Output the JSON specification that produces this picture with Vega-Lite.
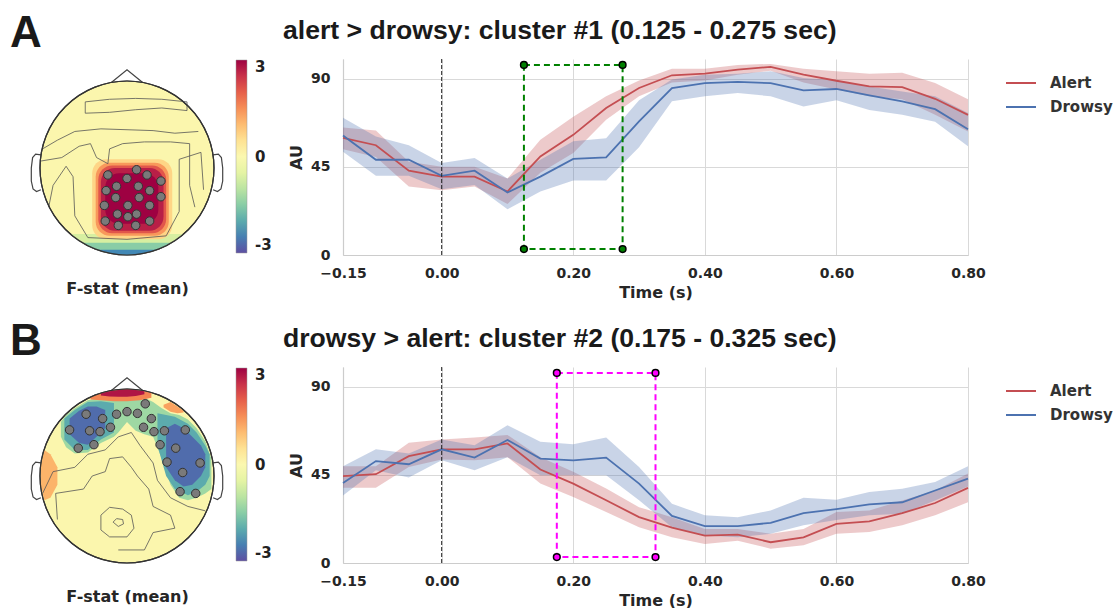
{
"$schema": "https://vega.github.io/schema/vega-lite/v6.json",
"background": "white",
"padding": {"left": 10, "top": 12, "right": 0, "bottom": 0},
"config": {
  "view": {"stroke": null},
  "axis": {"labelFont": "DejaVu Sans", "labelFontWeight": "bold", "labelFontSize": 14, "labelColor": "#262626", "titleFont": "DejaVu Sans", "titleFontWeight": "bold", "titleFontSize": 16, "titleColor": "#262626", "gridColor": "#d9d9d9", "gridWidth": 1, "domainColor": "#cccccc", "domainWidth": 1.2, "ticks": false, "labelFlush": false, "labelOverlap": false}
},
"datasets": {
  "lineA": [
    {"c":"Alert","t":-0.15,"y":59.7,"lo":54,"hi":65},{"c":"Alert","t":-0.10,"y":56,"lo":50,"hi":63.5},{"c":"Alert","t":-0.05,"y":43,"lo":35,"hi":47.6},{"c":"Alert","t":0.00,"y":40,"lo":33,"hi":45},{"c":"Alert","t":0.05,"y":40,"lo":35,"hi":45},{"c":"Alert","t":0.10,"y":32.4,"lo":26,"hi":39},{"c":"Alert","t":0.15,"y":50.3,"lo":42,"hi":58.8},{"c":"Alert","t":0.20,"y":61.3,"lo":52,"hi":70.5},{"c":"Alert","t":0.25,"y":75,"lo":69,"hi":81},{"c":"Alert","t":0.30,"y":85.2,"lo":81,"hi":89},{"c":"Alert","t":0.35,"y":91.7,"lo":88,"hi":95},{"c":"Alert","t":0.40,"y":92.5,"lo":89,"hi":95},{"c":"Alert","t":0.45,"y":94.6,"lo":92,"hi":97},{"c":"Alert","t":0.50,"y":96,"lo":94,"hi":97.5},{"c":"Alert","t":0.55,"y":92,"lo":88,"hi":95},{"c":"Alert","t":0.60,"y":88.9,"lo":84.5,"hi":93.7},{"c":"Alert","t":0.65,"y":86,"lo":81,"hi":92.5},{"c":"Alert","t":0.70,"y":85.7,"lo":79.5,"hi":93},{"c":"Alert","t":0.75,"y":79.7,"lo":71.5,"hi":87.7},{"c":"Alert","t":0.80,"y":71.5,"lo":63,"hi":79.5},
    {"c":"Drowsy","t":-0.15,"y":61,"lo":52.7,"hi":70},{"c":"Drowsy","t":-0.10,"y":48.6,"lo":40.4,"hi":60.4},{"c":"Drowsy","t":-0.05,"y":48.6,"lo":40.4,"hi":56},{"c":"Drowsy","t":0.00,"y":40.4,"lo":33.5,"hi":47},{"c":"Drowsy","t":0.05,"y":43,"lo":35.7,"hi":49.5},{"c":"Drowsy","t":0.10,"y":31.9,"lo":23.3,"hi":39},{"c":"Drowsy","t":0.15,"y":40,"lo":32.4,"hi":48.6},{"c":"Drowsy","t":0.20,"y":49,"lo":38,"hi":58},{"c":"Drowsy","t":0.25,"y":49.8,"lo":38,"hi":59.6},{"c":"Drowsy","t":0.30,"y":68.2,"lo":55,"hi":79},{"c":"Drowsy","t":0.35,"y":85.2,"lo":78.4,"hi":89.5},{"c":"Drowsy","t":0.40,"y":87.7,"lo":81,"hi":92},{"c":"Drowsy","t":0.45,"y":88.3,"lo":82.6,"hi":92.5},{"c":"Drowsy","t":0.50,"y":87.7,"lo":81,"hi":93.7},{"c":"Drowsy","t":0.55,"y":84,"lo":75.8,"hi":90.3},{"c":"Drowsy","t":0.60,"y":84.7,"lo":79,"hi":89.1},{"c":"Drowsy","t":0.65,"y":81.4,"lo":74,"hi":86},{"c":"Drowsy","t":0.70,"y":78.4,"lo":71.5,"hi":83.4},{"c":"Drowsy","t":0.75,"y":74.4,"lo":68,"hi":81},{"c":"Drowsy","t":0.80,"y":64.2,"lo":55.5,"hi":72.5}
  ],
  "lineB": [
    {"c":"Alert","t":-0.15,"y":44.3,"lo":38.4,"hi":49.4},{"c":"Alert","t":-0.10,"y":45.3,"lo":38.4,"hi":49.4},{"c":"Alert","t":-0.05,"y":54.5,"lo":49,"hi":61.3},{"c":"Alert","t":0.00,"y":58,"lo":52.8,"hi":63},{"c":"Alert","t":0.05,"y":58,"lo":52.4,"hi":64},{"c":"Alert","t":0.10,"y":61,"lo":54,"hi":65.3},{"c":"Alert","t":0.15,"y":47.7,"lo":40.5,"hi":54},{"c":"Alert","t":0.20,"y":40.5,"lo":33.7,"hi":46.5},{"c":"Alert","t":0.25,"y":32,"lo":26,"hi":38},{"c":"Alert","t":0.30,"y":23.4,"lo":18.2,"hi":28.5},{"c":"Alert","t":0.35,"y":18,"lo":13.1,"hi":23.4},{"c":"Alert","t":0.40,"y":14,"lo":9.7,"hi":17.4},{"c":"Alert","t":0.45,"y":14.5,"lo":11.4,"hi":17.4},{"c":"Alert","t":0.50,"y":10.6,"lo":7.3,"hi":14.9},{"c":"Alert","t":0.55,"y":13.1,"lo":9,"hi":17.4},{"c":"Alert","t":0.60,"y":20,"lo":14.9,"hi":26},{"c":"Alert","t":0.65,"y":21.2,"lo":15.8,"hi":26.8},{"c":"Alert","t":0.70,"y":25.4,"lo":19.2,"hi":31.9},{"c":"Alert","t":0.75,"y":30.6,"lo":24.3,"hi":37},{"c":"Alert","t":0.80,"y":38.3,"lo":31,"hi":45.6},
    {"c":"Drowsy","t":-0.15,"y":40.8,"lo":34.5,"hi":49.4},{"c":"Drowsy","t":-0.10,"y":52,"lo":47.3,"hi":58},{"c":"Drowsy","t":-0.05,"y":50.4,"lo":43.6,"hi":55.9},{"c":"Drowsy","t":0.00,"y":58,"lo":52.4,"hi":63},{"c":"Drowsy","t":0.05,"y":53.8,"lo":47.3,"hi":60.1},{"c":"Drowsy","t":0.10,"y":62.8,"lo":54,"hi":70.3},{"c":"Drowsy","t":0.15,"y":53.3,"lo":44.8,"hi":61.8},{"c":"Drowsy","t":0.20,"y":52.4,"lo":44.8,"hi":60.6},{"c":"Drowsy","t":0.25,"y":53.8,"lo":44.8,"hi":64},{"c":"Drowsy","t":0.30,"y":40.5,"lo":32,"hi":49},{"c":"Drowsy","t":0.35,"y":24,"lo":18.2,"hi":30.2},{"c":"Drowsy","t":0.40,"y":18.8,"lo":14,"hi":24.3},{"c":"Drowsy","t":0.45,"y":18.8,"lo":13.1,"hi":23.4},{"c":"Drowsy","t":0.50,"y":20.5,"lo":14.9,"hi":26.8},{"c":"Drowsy","t":0.55,"y":25.4,"lo":19.2,"hi":33.3},{"c":"Drowsy","t":0.60,"y":27.5,"lo":22,"hi":32.3},{"c":"Drowsy","t":0.65,"y":29.9,"lo":24.3,"hi":36.2},{"c":"Drowsy","t":0.70,"y":31,"lo":25.1,"hi":37.9},{"c":"Drowsy","t":0.75,"y":37,"lo":31.9,"hi":41.3},{"c":"Drowsy","t":0.80,"y":43,"lo":39,"hi":49.4}
  ],
  "boxA": [{"t":0.125,"t2":0.275,"y":3,"y2":97}],
  "cornA": [{"t":0.125,"y":97},{"t":0.275,"y":97},{"t":0.125,"y":3},{"t":0.275,"y":3}],
  "boxB": [{"t":0.175,"t2":0.325,"y":3,"y2":97}],
  "cornB": [{"t":0.175,"y":97},{"t":0.325,"y":97},{"t":0.175,"y":3},{"t":0.325,"y":3}],
  "head": [{"x":0,"y":0,"v":0.05}],
  "outline": [
    {"g":"nose","i":0,"x":-0.18,"y":0.983},{"g":"nose","i":1,"x":0,"y":1.13},{"g":"nose","i":2,"x":0.18,"y":0.983},
    {"g":"earL","i":0,"x":-0.99,"y":0.15},{"g":"earL","i":1,"x":-1.05,"y":0.16},{"g":"earL","i":2,"x":-1.085,"y":0.12},{"g":"earL","i":3,"x":-1.1,"y":0.0},{"g":"earL","i":4,"x":-1.1,"y":-0.15},{"g":"earL","i":5,"x":-1.08,"y":-0.24},{"g":"earL","i":6,"x":-1.04,"y":-0.27},{"g":"earL","i":7,"x":-0.99,"y":-0.25},
    {"g":"earR","i":0,"x":0.99,"y":0.15},{"g":"earR","i":1,"x":1.05,"y":0.16},{"g":"earR","i":2,"x":1.085,"y":0.12},{"g":"earR","i":3,"x":1.1,"y":0.0},{"g":"earR","i":4,"x":1.1,"y":-0.15},{"g":"earR","i":5,"x":1.08,"y":-0.24},{"g":"earR","i":6,"x":1.04,"y":-0.27},{"g":"earR","i":7,"x":0.99,"y":-0.25}
  ],
  "elecA": [
    {"x":-0.22,"y":-0.08},{"x":0.11,"y":-0.02},{"x":0.23,"y":-0.08},{"x":0.39,"y":-0.15},{"x":0.0,"y":-0.12},{"x":-0.12,"y":-0.21},{"x":0.13,"y":-0.21},{"x":0.26,"y":-0.26},{"x":0.39,"y":-0.33},{"x":-0.24,"y":-0.26},{"x":-0.13,"y":-0.34},{"x":0.14,"y":-0.34},{"x":-0.26,"y":-0.43},{"x":0.01,"y":-0.43},{"x":0.26,"y":-0.43},{"x":-0.11,"y":-0.53},{"x":0.11,"y":-0.53},{"x":0.01,"y":-0.56},{"x":-0.25,"y":-0.61},{"x":-0.10,"y":-0.66},{"x":0.10,"y":-0.66},{"x":0.26,"y":-0.61}
  ],
  "elecB": [
    {"x":-0.47,"y":0.71},{"x":-0.12,"y":0.71},{"x":0.0,"y":0.74},{"x":0.12,"y":0.72},{"x":0.21,"y":0.83},{"x":-0.28,"y":0.66},{"x":0.28,"y":0.66},{"x":-0.66,"y":0.53},{"x":-0.43,"y":0.52},{"x":-0.31,"y":0.51},{"x":-0.19,"y":0.56},{"x":0.19,"y":0.56},{"x":0.31,"y":0.51},{"x":0.43,"y":0.52},{"x":0.67,"y":0.53},{"x":-0.56,"y":0.32},{"x":-0.38,"y":0.36},{"x":0.38,"y":0.36},{"x":0.56,"y":0.32},{"x":0.46,"y":0.16},{"x":0.84,"y":0.15},{"x":0.64,"y":0.04},{"x":0.61,"y":-0.18},{"x":0.79,"y":-0.20}
  ],
  "rectA": [
    {"x":-0.40,"x2":0.52,"y":-0.82,"y2":0.10,"v":0.7},
    {"x":-0.36,"x2":0.48,"y":-0.78,"y2":0.06,"v":1.4},
    {"x":-0.33,"x2":0.45,"y":-0.75,"y2":0.03,"v":2.1},
    {"x":-0.30,"x2":0.42,"y":-0.72,"y2":0.0,"v":2.7},
    {"x":-0.25,"x2":0.36,"y":-0.64,"y2":-0.06,"v":3}
  ],
  "patchA": [
    {"g":"a1","v":-0.7,"x":-0.65,"y":-0.76,"y2":-0.76},{"g":"a1","v":-0.7,"x":-0.55,"y":-0.835,"y2":-0.76},{"g":"a1","v":-0.7,"x":-0.45,"y":-0.893,"y2":-0.76},{"g":"a1","v":-0.7,"x":-0.35,"y":-0.937,"y2":-0.76},{"g":"a1","v":-0.7,"x":-0.25,"y":-0.968,"y2":-0.76},{"g":"a1","v":-0.7,"x":-0.15,"y":-0.989,"y2":-0.76},{"g":"a1","v":-0.7,"x":0,"y":-1,"y2":-0.76},{"g":"a1","v":-0.7,"x":0.15,"y":-0.989,"y2":-0.76},{"g":"a1","v":-0.7,"x":0.25,"y":-0.968,"y2":-0.76},{"g":"a1","v":-0.7,"x":0.35,"y":-0.937,"y2":-0.76},{"g":"a1","v":-0.7,"x":0.45,"y":-0.893,"y2":-0.76},{"g":"a1","v":-0.7,"x":0.55,"y":-0.835,"y2":-0.76},{"g":"a1","v":-0.7,"x":0.65,"y":-0.76,"y2":-0.76},
    {"g":"a2","v":-1.5,"x":-0.51,"y":-0.86,"y2":-0.86},{"g":"a2","v":-1.5,"x":-0.4,"y":-0.917,"y2":-0.86},{"g":"a2","v":-1.5,"x":-0.3,"y":-0.954,"y2":-0.86},{"g":"a2","v":-1.5,"x":-0.2,"y":-0.98,"y2":-0.86},{"g":"a2","v":-1.5,"x":-0.1,"y":-0.995,"y2":-0.86},{"g":"a2","v":-1.5,"x":0,"y":-1,"y2":-0.86},{"g":"a2","v":-1.5,"x":0.1,"y":-0.995,"y2":-0.86},{"g":"a2","v":-1.5,"x":0.2,"y":-0.98,"y2":-0.86},{"g":"a2","v":-1.5,"x":0.3,"y":-0.954,"y2":-0.86},{"g":"a2","v":-1.5,"x":0.4,"y":-0.917,"y2":-0.86},{"g":"a2","v":-1.5,"x":0.51,"y":-0.86,"y2":-0.86},
    {"g":"a3","v":-2.4,"x":-0.341,"y":-0.94,"y2":-0.94},{"g":"a3","v":-2.4,"x":-0.25,"y":-0.968,"y2":-0.94},{"g":"a3","v":-2.4,"x":-0.15,"y":-0.989,"y2":-0.94},{"g":"a3","v":-2.4,"x":0,"y":-1,"y2":-0.94},{"g":"a3","v":-2.4,"x":0.15,"y":-0.989,"y2":-0.94},{"g":"a3","v":-2.4,"x":0.25,"y":-0.968,"y2":-0.94},{"g":"a3","v":-2.4,"x":0.341,"y":-0.94,"y2":-0.94}
  ],
  "patchB": [
    {"g":"b1","v":-1.3,"x":-0.76,"y":0.45,"y2":0.62},{"g":"b1","v":-1.3,"x":-0.7,"y":0.33,"y2":0.7},{"g":"b1","v":-1.3,"x":-0.6,"y":0.26,"y2":0.78},{"g":"b1","v":-1.3,"x":-0.45,"y":0.27,"y2":0.87},{"g":"b1","v":-1.3,"x":-0.3,"y":0.38,"y2":0.9},{"g":"b1","v":-1.3,"x":-0.15,"y":0.45,"y2":0.92},{"g":"b1","v":-1.3,"x":-0.1,"y":0.5,"y2":0.93},{"g":"b1","v":-1.3,"x":0.0,"y":0.62,"y2":0.93},{"g":"b1","v":-1.3,"x":0.1,"y":0.52,"y2":0.93},{"g":"b1","v":-1.3,"x":0.2,"y":0.48,"y2":0.9},{"g":"b1","v":-1.3,"x":0.3,"y":0.45,"y2":0.85},{"g":"b1","v":-1.3,"x":0.4,"y":0.2,"y2":0.78},{"g":"b1","v":-1.3,"x":0.5,"y":-0.1,"y2":0.72},{"g":"b1","v":-1.3,"x":0.6,"y":-0.25,"y2":0.7},{"g":"b1","v":-1.3,"x":0.7,"y":-0.28,"y2":0.65},{"g":"b1","v":-1.3,"x":0.8,"y":-0.25,"y2":0.55},{"g":"b1","v":-1.3,"x":0.9,"y":-0.2,"y2":0.4},{"g":"b1","v":-1.3,"x":0.97,"y":-0.15,"y2":0.2},
    {"g":"b2l","v":-2.0,"x":-0.72,"y":0.42,"y2":0.66},{"g":"b2l","v":-2.0,"x":-0.6,"y":0.3,"y2":0.76},{"g":"b2l","v":-2.0,"x":-0.45,"y":0.3,"y2":0.85},{"g":"b2l","v":-2.0,"x":-0.3,"y":0.42,"y2":0.86},{"g":"b2l","v":-2.0,"x":-0.15,"y":0.5,"y2":0.84},
    {"g":"b2r","v":-2.0,"x":0.35,"y":0.35,"y2":0.72},{"g":"b2r","v":-2.0,"x":0.45,"y":0.0,"y2":0.7},{"g":"b2r","v":-2.0,"x":0.55,"y":-0.15,"y2":0.68},{"g":"b2r","v":-2.0,"x":0.7,"y":-0.22,"y2":0.6},{"g":"b2r","v":-2.0,"x":0.8,"y":-0.18,"y2":0.5},{"g":"b2r","v":-2.0,"x":0.9,"y":-0.1,"y2":0.35},{"g":"b2r","v":-2.0,"x":0.95,"y":0.0,"y2":0.25},
    {"g":"b3l","v":-2.7,"x":-0.66,"y":0.48,"y2":0.66},{"g":"b3l","v":-2.7,"x":-0.55,"y":0.38,"y2":0.75},{"g":"b3l","v":-2.7,"x":-0.45,"y":0.36,"y2":0.8},{"g":"b3l","v":-2.7,"x":-0.35,"y":0.45,"y2":0.8},{"g":"b3l","v":-2.7,"x":-0.25,"y":0.55,"y2":0.76},
    {"g":"b3r","v":-2.7,"x":0.45,"y":0.1,"y2":0.55},{"g":"b3r","v":-2.7,"x":0.55,"y":-0.05,"y2":0.6},{"g":"b3r","v":-2.7,"x":0.65,"y":-0.12,"y2":0.55},{"g":"b3r","v":-2.7,"x":0.75,"y":-0.1,"y2":0.45},{"g":"b3r","v":-2.7,"x":0.85,"y":0.0,"y2":0.35},{"g":"b3r","v":-2.7,"x":0.9,"y":0.1,"y2":0.25},
    {"g":"b4","v":1.6,"x":-0.42,"y":0.88,"y2":0.905},{"g":"b4","v":1.6,"x":-0.3,"y":0.87,"y2":0.95},{"g":"b4","v":1.6,"x":-0.15,"y":0.86,"y2":0.985},{"g":"b4","v":1.6,"x":0,"y":0.86,"y2":1.0},{"g":"b4","v":1.6,"x":0.15,"y":0.87,"y2":0.985},{"g":"b4","v":1.6,"x":0.28,"y":0.9,"y2":0.955},
    {"g":"b5","v":2.8,"x":-0.3,"y":0.925,"y2":0.95},{"g":"b5","v":2.8,"x":-0.2,"y":0.915,"y2":0.975},{"g":"b5","v":2.8,"x":-0.1,"y":0.91,"y2":0.99},{"g":"b5","v":2.8,"x":0,"y":0.91,"y2":0.998},{"g":"b5","v":2.8,"x":0.1,"y":0.92,"y2":0.99},{"g":"b5","v":2.8,"x":0.2,"y":0.94,"y2":0.975},
    {"g":"b6","v":1.3,"x":0.42,"y":0.79,"y2":0.82},{"g":"b6","v":1.3,"x":0.5,"y":0.74,"y2":0.85},{"g":"b6","v":1.3,"x":0.58,"y":0.72,"y2":0.8},{"g":"b6","v":1.3,"x":0.65,"y":0.73,"y2":0.75},
    {"g":"b7","v":1.1,"x":-0.99,"y":-0.12,"y2":0.12},{"g":"b7","v":1.1,"x":-0.95,"y":-0.28,"y2":0.3},{"g":"b7","v":1.1,"x":-0.88,"y":-0.25,"y2":0.25},{"g":"b7","v":1.1,"x":-0.8,"y":-0.1,"y2":0.1}
  ],
  "contA": [
    {"g":"c1","i":0,"x":-0.48,"y":0.63},{"g":"c1","i":1,"x":-0.48,"y":0.76},{"g":"c1","i":2,"x":-0.2,"y":0.79},{"g":"c1","i":3,"x":0.1,"y":0.8},{"g":"c1","i":4,"x":0.4,"y":0.79},{"g":"c1","i":5,"x":0.69,"y":0.76},{"g":"c1","i":6,"x":0.69,"y":0.66},{"g":"c1","i":7,"x":0.4,"y":0.69},{"g":"c1","i":8,"x":0.1,"y":0.67},{"g":"c1","i":9,"x":-0.2,"y":0.64},{"g":"c1","i":10,"x":-0.48,"y":0.63},
    {"g":"c2","i":0,"x":-0.97,"y":0.22},{"g":"c2","i":1,"x":-0.8,"y":0.32},{"g":"c2","i":2,"x":-0.6,"y":0.42},{"g":"c2","i":3,"x":-0.3,"y":0.45},{"g":"c2","i":4,"x":0,"y":0.44},{"g":"c2","i":5,"x":0.3,"y":0.43},{"g":"c2","i":6,"x":0.55,"y":0.4},{"g":"c2","i":7,"x":0.82,"y":0.42},
    {"g":"c3","i":0,"x":-0.99,"y":0.08},{"g":"c3","i":1,"x":-0.75,"y":0.12},{"g":"c3","i":2,"x":-0.55,"y":0.25},{"g":"c3","i":3,"x":-0.42,"y":0.28},{"g":"c3","i":4,"x":-0.35,"y":0.12},{"g":"c3","i":5,"x":-0.22,"y":0.05},{"g":"c3","i":6,"x":-0.2,"y":0.22},{"g":"c3","i":7,"x":-0.05,"y":0.28},{"g":"c3","i":8,"x":0.2,"y":0.3},{"g":"c3","i":9,"x":0.5,"y":0.3},{"g":"c3","i":10,"x":0.72,"y":0.28},{"g":"c3","i":11,"x":0.72,"y":-0.2},{"g":"c3","i":12,"x":0.78,"y":-0.45},
    {"g":"c4","i":0,"x":-0.9,"y":-0.45},{"g":"c4","i":1,"x":-0.85,"y":-0.2},{"g":"c4","i":2,"x":-0.7,"y":0.02},{"g":"c4","i":3,"x":-0.62,"y":-0.1},{"g":"c4","i":4,"x":-0.6,"y":-0.55},{"g":"c4","i":5,"x":-0.45,"y":-0.8},{"g":"c4","i":6,"x":0.0,"y":-0.82},{"g":"c4","i":7,"x":0.45,"y":-0.78},{"g":"c4","i":8,"x":0.6,"y":-0.5},{"g":"c4","i":9,"x":0.6,"y":0.1},{"g":"c4","i":10,"x":0.85,"y":0.18},{"g":"c4","i":11,"x":0.88,"y":-0.25}
  ],
  "contB": [
    {"g":"c1","i":0,"x":-0.16,"y":-0.53},{"g":"c1","i":1,"x":-0.12,"y":-0.49},{"g":"c1","i":2,"x":-0.05,"y":-0.5},{"g":"c1","i":3,"x":-0.04,"y":-0.55},{"g":"c1","i":4,"x":-0.1,"y":-0.58},{"g":"c1","i":5,"x":-0.16,"y":-0.53},
    {"g":"c2","i":0,"x":-0.3,"y":-0.45},{"g":"c2","i":1,"x":-0.2,"y":-0.36},{"g":"c2","i":2,"x":-0.05,"y":-0.38},{"g":"c2","i":3,"x":0.05,"y":-0.45},{"g":"c2","i":4,"x":0.08,"y":-0.6},{"g":"c2","i":5,"x":0.0,"y":-0.7},{"g":"c2","i":6,"x":-0.2,"y":-0.7},{"g":"c2","i":7,"x":-0.3,"y":-0.62},{"g":"c2","i":8,"x":-0.3,"y":-0.45},
    {"g":"c3","i":0,"x":-0.8,"y":-0.5},{"g":"c3","i":1,"x":-0.82,"y":-0.2},{"g":"c3","i":2,"x":-0.5,"y":-0.15},{"g":"c3","i":3,"x":-0.4,"y":0.0},{"g":"c3","i":4,"x":-0.25,"y":0.05},{"g":"c3","i":5,"x":-0.2,"y":0.2},{"g":"c3","i":6,"x":-0.05,"y":0.22},{"g":"c3","i":7,"x":0.05,"y":0.1},{"g":"c3","i":8,"x":0.12,"y":0.0},{"g":"c3","i":9,"x":0.25,"y":-0.15},{"g":"c3","i":10,"x":0.3,"y":-0.35},{"g":"c3","i":11,"x":0.5,"y":-0.45},{"g":"c3","i":12,"x":0.55,"y":-0.6},{"g":"c3","i":13,"x":0.3,"y":-0.65},{"g":"c3","i":14,"x":0.2,"y":-0.85},{"g":"c3","i":15,"x":-0.1,"y":-0.85},
    {"g":"c4","i":0,"x":-0.97,"y":-0.2},{"g":"c4","i":1,"x":-0.85,"y":0.05},{"g":"c4","i":2,"x":-0.6,"y":0.1},{"g":"c4","i":3,"x":-0.45,"y":0.25},{"g":"c4","i":4,"x":-0.25,"y":0.3},{"g":"c4","i":5,"x":-0.1,"y":0.45},{"g":"c4","i":6,"x":0.05,"y":0.5},{"g":"c4","i":7,"x":0.15,"y":0.35},{"g":"c4","i":8,"x":0.3,"y":0.15},{"g":"c4","i":9,"x":0.35,"y":-0.05},{"g":"c4","i":10,"x":0.5,"y":-0.25},{"g":"c4","i":11,"x":0.7,"y":-0.35},{"g":"c4","i":12,"x":0.9,"y":-0.4}
  ]
},
"columns": 2,
"bounds": "flush",
"spacing": {"column": 129, "row": 112},
"resolve": {"scale": {"color": "independent", "x": "independent", "y": "independent"}, "legend": {"color": "independent"}},
"concat": [
  {
    "width": 174, "height": 196,
    "title": {"text": "A", "anchor": "start", "frame": "group", "dx": -30, "offset": -32, "baseline": "alphabetic", "fontSize": 44, "font": "Liberation Sans", "fontWeight": "bold", "color": "#1a1a1a"},
    "encoding": {
      "x": {"field": "x", "type": "quantitative", "scale": {"domain": [-1, 1], "nice": false, "zero": false}, "axis": {"title": "F-stat (mean)", "labels": false, "ticks": false, "domain": false, "grid": false, "titlePadding": 25}},
      "y": {"field": "y", "type": "quantitative", "scale": {"domain": [-1, 1.253], "nice": false, "zero": false}, "axis": null}
    },
    "layer": [
      {"data": {"name": "outline"}, "mark": {"type": "line", "stroke": "#444", "strokeWidth": 1.2}, "encoding": {"detail": {"field": "g"}, "order": {"field": "i"}}},
      {"data": {"name": "head"}, "mark": {"type": "point", "shape": "circle", "filled": true, "size": 30276, "opacity": 1, "stroke": "#333", "strokeWidth": 1.2},
       "encoding": {"color": {"field": "v", "type": "quantitative", "scale": {"domain": [-3, 3], "scheme": "spectral", "reverse": true}, "legend": {"title": null, "orient": "none", "legendX": 196, "legendY": 1, "direction": "vertical", "gradientLength": 193, "gradientThickness": 11, "values": [-3, 0, 3], "format": "d", "labelExpr": "replace(datum.label, '−', '-')", "labelFontSize": 15, "labelFont": "DejaVu Sans", "labelFontWeight": "bold", "labelColor": "#222", "labelOffset": 8, "gradientStrokeColor": "#999", "gradientStrokeWidth": 0.5}}}},
      {"data": {"name": "patchA"}, "mark": {"type": "area", "opacity": 1}, "encoding": {"y2": {"field": "y2"}, "detail": {"field": "g"}, "color": {"field": "v", "type": "quantitative", "scale": {"domain": [-3, 3], "scheme": "spectral", "reverse": true}}}},
      {"data": {"name": "rectA"}, "mark": {"type": "rect", "cornerRadius": 14}, "encoding": {"x2": {"field": "x2"}, "y2": {"field": "y2"}, "color": {"field": "v", "type": "quantitative", "scale": {"domain": [-3, 3], "scheme": "spectral", "reverse": true}}}},
      {"data": {"name": "contA"}, "mark": {"type": "line", "stroke": "#555", "strokeWidth": 0.8}, "encoding": {"detail": {"field": "g"}, "order": {"field": "i"}}},
      {"data": {"name": "head"}, "mark": {"type": "point", "shape": "circle", "filled": false, "size": 30276, "stroke": "#333", "strokeWidth": 1.2, "opacity": 1}},
      {"data": {"name": "elecA"}, "mark": {"type": "point", "shape": "circle", "filled": true, "size": 72, "fill": "#7a7a7a", "stroke": "#333", "strokeWidth": 1, "opacity": 1}}
    ]
  },
  {
    "width": 625, "height": 196,
    "title": {"text": "alert > drowsy: cluster #1 (0.125 - 0.275 sec)", "anchor": "start", "frame": "group", "dx": -60, "offset": -7, "baseline": "alphabetic", "fontSize": 26.6, "font": "Liberation Sans", "fontWeight": "bold", "color": "#1a1a1a"},
    "layer": [
      {"data": {"name": "lineA"}, "mark": {"type": "area", "opacity": 0.3},
       "encoding": {
         "x": {"field": "t", "type": "quantitative", "scale": {"domain": [-0.15, 0.8], "nice": false, "zero": false}, "axis": {"values": [-0.15, 0, 0.2, 0.4, 0.6, 0.8], "format": ".2f", "title": "Time (s)", "labelPadding": 11, "titlePadding": 4}},
         "y": {"field": "lo", "type": "quantitative", "scale": {"domain": [0, 100], "nice": false}, "axis": {"values": [0, 45, 90], "title": "AU", "labelPadding": 13, "titlePadding": 6}},
         "y2": {"field": "hi"},
         "color": {"field": "c", "type": "nominal", "scale": {"domain": ["Alert", "Drowsy"], "range": ["#c44e52", "#4c72b0"]}, "legend": {"title": null, "orient": "none", "legendX": 662, "legendY": 8, "symbolType": "stroke", "symbolSize": 900, "symbolStrokeWidth": 2, "symbolOpacity": 1, "labelFontSize": 15, "labelFont": "DejaVu Sans", "labelFontWeight": "bold", "labelColor": "#333", "labelOffset": 13, "rowPadding": -6}}
       }},
      {"data": {"name": "lineA"}, "mark": {"type": "line", "strokeWidth": 1.8},
       "encoding": {
         "x": {"field": "t", "type": "quantitative", "scale": {"domain": [-0.15, 0.8], "nice": false, "zero": false}, "axis": {"values": [-0.15, 0, 0.2, 0.4, 0.6, 0.8], "format": ".2f", "title": "Time (s)", "labelPadding": 11, "titlePadding": 4}},
         "y": {"field": "y", "type": "quantitative", "scale": {"domain": [0, 100], "nice": false}, "axis": {"values": [0, 45, 90], "title": "AU", "labelPadding": 13, "titlePadding": 6}},
         "color": {"field": "c", "type": "nominal", "scale": {"domain": ["Alert", "Drowsy"], "range": ["#c44e52", "#4c72b0"]}, "legend": {"title": null, "orient": "none", "legendX": 662, "legendY": 8, "symbolType": "stroke", "symbolSize": 900, "symbolStrokeWidth": 2, "symbolOpacity": 1, "labelFontSize": 15, "labelFont": "DejaVu Sans", "labelFontWeight": "bold", "labelColor": "#333", "labelOffset": 13, "rowPadding": -6}}
       }},
      {"data": {"name": "boxA"}, "mark": {"type": "rule", "strokeDash": [4, 2], "color": "#222", "strokeWidth": 1}, "encoding": {"x": {"datum": 0, "type": "quantitative"}}},
      {"data": {"name": "boxA"}, "mark": {"type": "rect", "fillOpacity": 0, "stroke": "#008000", "strokeWidth": 2, "strokeDash": [6, 4]},
       "encoding": {"x": {"field": "t", "type": "quantitative"}, "x2": {"field": "t2"}, "y": {"field": "y", "type": "quantitative"}, "y2": {"field": "y2"}}},
      {"data": {"name": "cornA"}, "mark": {"type": "point", "shape": "circle", "filled": true, "fill": "#008000", "stroke": "#000", "strokeWidth": 1.5, "size": 45, "opacity": 1},
       "encoding": {"x": {"field": "t", "type": "quantitative"}, "y": {"field": "y", "type": "quantitative"}}}
    ]
  },
  {
    "width": 174, "height": 196,
    "title": {"text": "B", "anchor": "start", "frame": "group", "dx": -30, "offset": -32, "baseline": "alphabetic", "fontSize": 44, "font": "Liberation Sans", "fontWeight": "bold", "color": "#1a1a1a"},
    "encoding": {
      "x": {"field": "x", "type": "quantitative", "scale": {"domain": [-1, 1], "nice": false, "zero": false}, "axis": {"title": "F-stat (mean)", "labels": false, "ticks": false, "domain": false, "grid": false, "titlePadding": 25}},
      "y": {"field": "y", "type": "quantitative", "scale": {"domain": [-1, 1.253], "nice": false, "zero": false}, "axis": null}
    },
    "layer": [
      {"data": {"name": "outline"}, "mark": {"type": "line", "stroke": "#444", "strokeWidth": 1.2}, "encoding": {"detail": {"field": "g"}, "order": {"field": "i"}}},
      {"data": {"name": "head"}, "mark": {"type": "point", "shape": "circle", "filled": true, "size": 30276, "opacity": 1, "stroke": "#333", "strokeWidth": 1.2},
       "encoding": {"color": {"field": "v", "type": "quantitative", "scale": {"domain": [-3, 3], "scheme": "spectral", "reverse": true}, "legend": {"title": null, "orient": "none", "legendX": 196, "legendY": 1, "direction": "vertical", "gradientLength": 193, "gradientThickness": 11, "values": [-3, 0, 3], "format": "d", "labelExpr": "replace(datum.label, '−', '-')", "labelFontSize": 15, "labelFont": "DejaVu Sans", "labelFontWeight": "bold", "labelColor": "#222", "labelOffset": 8, "gradientStrokeColor": "#999", "gradientStrokeWidth": 0.5}}}},
      {"data": {"name": "patchB"}, "mark": {"type": "area", "opacity": 1}, "encoding": {"y2": {"field": "y2"}, "detail": {"field": "g"}, "color": {"field": "v", "type": "quantitative", "scale": {"domain": [-3, 3], "scheme": "spectral", "reverse": true}}}},
      {"data": {"name": "contB"}, "mark": {"type": "line", "stroke": "#555", "strokeWidth": 0.8}, "encoding": {"detail": {"field": "g"}, "order": {"field": "i"}}},
      {"data": {"name": "head"}, "mark": {"type": "point", "shape": "circle", "filled": false, "size": 30276, "stroke": "#333", "strokeWidth": 1.2, "opacity": 1}},
      {"data": {"name": "elecB"}, "mark": {"type": "point", "shape": "circle", "filled": true, "size": 72, "fill": "#7a7a7a", "stroke": "#333", "strokeWidth": 1, "opacity": 1}}
    ]
  },
  {
    "width": 625, "height": 196,
    "title": {"text": "drowsy > alert: cluster #2 (0.175 - 0.325 sec)", "anchor": "start", "frame": "group", "dx": -60, "offset": -7, "baseline": "alphabetic", "fontSize": 26.6, "font": "Liberation Sans", "fontWeight": "bold", "color": "#1a1a1a"},
    "layer": [
      {"data": {"name": "lineB"}, "mark": {"type": "area", "opacity": 0.3},
       "encoding": {
         "x": {"field": "t", "type": "quantitative", "scale": {"domain": [-0.15, 0.8], "nice": false, "zero": false}, "axis": {"values": [-0.15, 0, 0.2, 0.4, 0.6, 0.8], "format": ".2f", "title": "Time (s)", "labelPadding": 11, "titlePadding": 4}},
         "y": {"field": "lo", "type": "quantitative", "scale": {"domain": [0, 100], "nice": false}, "axis": {"values": [0, 45, 90], "title": "AU", "labelPadding": 13, "titlePadding": 6}},
         "y2": {"field": "hi"},
         "color": {"field": "c", "type": "nominal", "scale": {"domain": ["Alert", "Drowsy"], "range": ["#c44e52", "#4c72b0"]}, "legend": {"title": null, "orient": "none", "legendX": 662, "legendY": 8, "symbolType": "stroke", "symbolSize": 900, "symbolStrokeWidth": 2, "symbolOpacity": 1, "labelFontSize": 15, "labelFont": "DejaVu Sans", "labelFontWeight": "bold", "labelColor": "#333", "labelOffset": 13, "rowPadding": -6}}
       }},
      {"data": {"name": "lineB"}, "mark": {"type": "line", "strokeWidth": 1.8},
       "encoding": {
         "x": {"field": "t", "type": "quantitative", "scale": {"domain": [-0.15, 0.8], "nice": false, "zero": false}, "axis": {"values": [-0.15, 0, 0.2, 0.4, 0.6, 0.8], "format": ".2f", "title": "Time (s)", "labelPadding": 11, "titlePadding": 4}},
         "y": {"field": "y", "type": "quantitative", "scale": {"domain": [0, 100], "nice": false}, "axis": {"values": [0, 45, 90], "title": "AU", "labelPadding": 13, "titlePadding": 6}},
         "color": {"field": "c", "type": "nominal", "scale": {"domain": ["Alert", "Drowsy"], "range": ["#c44e52", "#4c72b0"]}, "legend": {"title": null, "orient": "none", "legendX": 662, "legendY": 8, "symbolType": "stroke", "symbolSize": 900, "symbolStrokeWidth": 2, "symbolOpacity": 1, "labelFontSize": 15, "labelFont": "DejaVu Sans", "labelFontWeight": "bold", "labelColor": "#333", "labelOffset": 13, "rowPadding": -6}}
       }},
      {"data": {"name": "boxB"}, "mark": {"type": "rule", "strokeDash": [4, 2], "color": "#222", "strokeWidth": 1}, "encoding": {"x": {"datum": 0, "type": "quantitative"}}},
      {"data": {"name": "boxB"}, "mark": {"type": "rect", "fillOpacity": 0, "stroke": "#ff00ff", "strokeWidth": 2, "strokeDash": [6, 4]},
       "encoding": {"x": {"field": "t", "type": "quantitative"}, "x2": {"field": "t2"}, "y": {"field": "y", "type": "quantitative"}, "y2": {"field": "y2"}}},
      {"data": {"name": "cornB"}, "mark": {"type": "point", "shape": "circle", "filled": true, "fill": "#ff00ff", "stroke": "#000", "strokeWidth": 1.5, "size": 45, "opacity": 1},
       "encoding": {"x": {"field": "t", "type": "quantitative"}, "y": {"field": "y", "type": "quantitative"}}}
    ]
  }
]
}
